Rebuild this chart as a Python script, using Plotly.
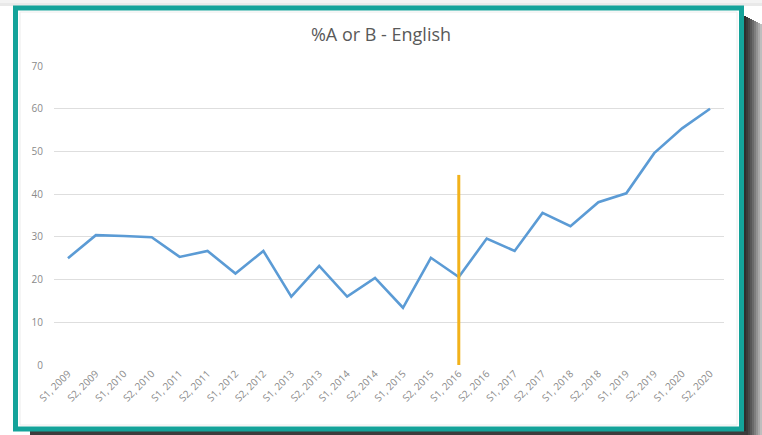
import plotly.graph_objects as go

categories = ["S1, 2009", "S2, 2009", "S1, 2010", "S2, 2010", "S1, 2011", "S2, 2011",
              "S1, 2012", "S2, 2012", "S1, 2013", "S2, 2013", "S1, 2014", "S2, 2014",
              "S1, 2015", "S2, 2015", "S1, 2016", "S2, 2016", "S1, 2017", "S2, 2017",
              "S1, 2018", "S2, 2018", "S1, 2019", "S2, 2019", "S1, 2020", "S2, 2020"]
pct_a_or_b = [25.0, 30.4, 30.2, 29.9, 25.3, 26.7, 21.4, 26.7, 16.0, 23.2, 16.0, 20.4,
              13.4, 25.1, 20.6, 29.6, 26.7, 35.6, 32.5, 38.1, 40.2, 49.6, 55.4, 60.0]
event_category = "S1, 2016"
event_range = [0, 44.5]
y_ticks = [0, 10, 20, 30, 40, 50, 60, 70]

W, H = 762, 435
L, R, T, B = 54, 38, 66, 70
pw, ph = W - L - R, H - T - B

def px(x):
    return (x - L) / pw

def py(y):
    return 1 - (y - T) / ph

fig = go.Figure()
fig.add_trace(go.Scatter(x=categories, y=pct_a_or_b, mode="lines",
                         line=dict(color="#5B9BD5", width=2.6), hoverinfo="x+y"))
fig.add_trace(go.Scatter(x=[event_category, event_category], y=event_range, mode="lines",
                         line=dict(color="#F2B21B", width=3), hoverinfo="skip"))

shapes = []
# top light shadow
shapes.append(dict(type="rect", xref="paper", yref="paper", x0=px(0), x1=px(762), y0=py(6), y1=py(0),
                   fillcolor="#e9e9e9", line_width=0, layer="below"))
shapes.append(dict(type="rect", xref="paper", yref="paper", x0=px(0), x1=px(762), y0=py(3), y1=py(0),
                   fillcolor="#f3f3f3", line_width=0, layer="below"))
# right shadow gradient
shadow_cols = ["#2e2e2e", "#3a3a3a", "#484848", "#585858", "#6a6a6a", "#7e7e7e",
               "#939393", "#a9a9a9", "#bebebe", "#d2d2d2"]
for i, c in enumerate(shadow_cols):
    x0 = 744 + 2 * i
    shapes.append(dict(type="rect", xref="paper", yref="paper",
                       x0=px(x0), x1=px(x0 + 2), y0=py(435), y1=py(16 + i),
                       fillcolor=c, line_width=0, layer="below"))
# bottom shadow
shapes.append(dict(type="rect", xref="paper", yref="paper", x0=px(30), x1=px(746), y0=py(435), y1=py(431),
                   fillcolor="#3c3c3c", line_width=0, layer="below"))
# white card
shapes.append(dict(type="rect", xref="paper", yref="paper", x0=px(15.5), x1=px(741.5), y0=py(429), y1=py(8),
                   fillcolor="white", line=dict(color="#14A39A", width=5), layer="below"))
# faint inner chart border
shapes.append(dict(type="rect", xref="paper", yref="paper", x0=px(20), x1=px(737), y0=py(425), y1=py(12),
                   fillcolor="rgba(0,0,0,0)", line=dict(color="#ececec", width=1), layer="below"))

fig.update_layout(
    width=W, height=H,
    margin=dict(l=L, r=R, t=T, b=B),
    paper_bgcolor="white", plot_bgcolor="rgba(0,0,0,0)",
    showlegend=False,
    title=dict(text="%A or B - English", x=0.5, xanchor="center", y=1 - 35 / H, yanchor="middle",
               font=dict(family="Open Sans", size=18, color="#595959")),
    shapes=shapes,
    xaxis=dict(type="category", categoryorder="array", categoryarray=categories,
               tickangle=-45, tickfont=dict(family="Open Sans", size=10, color="#8a8a8a"),
               showgrid=False, showline=False, ticks="", zeroline=False, automargin=False,
               range=[-0.5, len(categories) - 0.5]),
    yaxis=dict(range=[0, 70], tickvals=y_ticks, showgrid=True, gridcolor="#dedede", gridwidth=1,
               zeroline=False, showline=False, ticks="", ticklabelstandoff=10, automargin=False,
               tickfont=dict(family="Open Sans", size=10, color="#8a8a8a")),
)
fig.write_html("out.html", config={"displayModeBar": False},
               post_script="document.body.style.margin='0';document.body.style.overflow='hidden';")
